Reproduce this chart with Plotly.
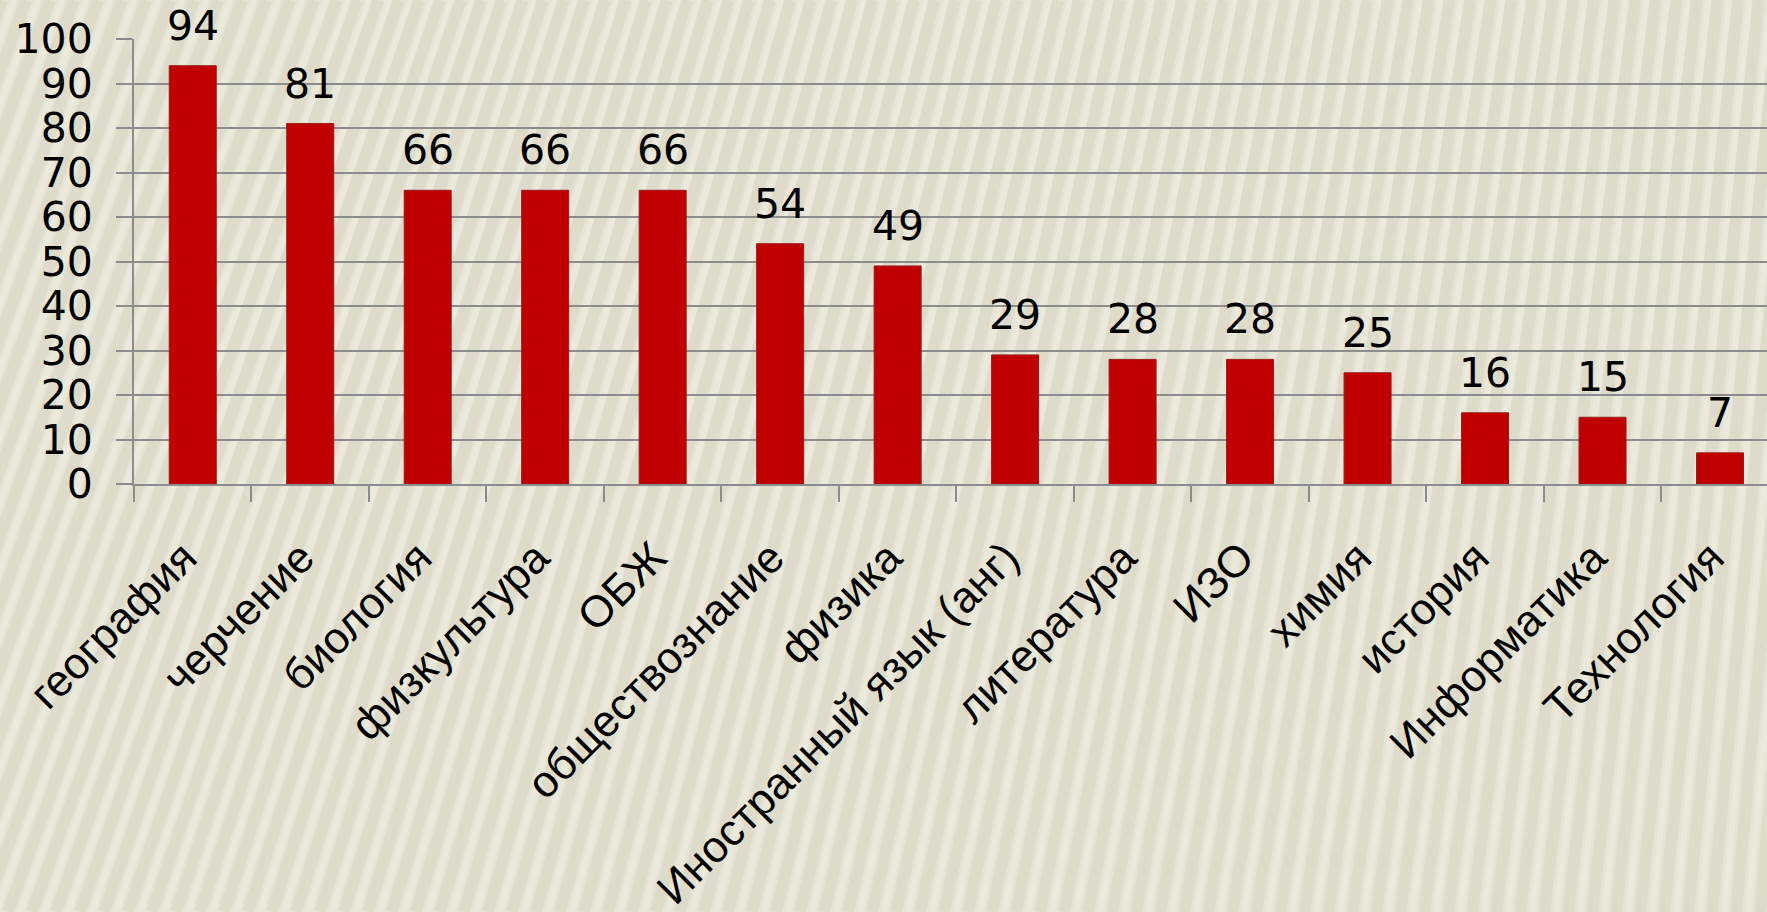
import plotly.graph_objects as go

categories = ["география", "черчение", "биология", "физкультура", "ОБЖ",
              "обществознание", "физика", "Иностранный язык (анг)", "литература",
              "ИЗО", "химия", "история", "Информатика", "Технология"]
values = [94, 81, 66, 66, 66, 54, 49, 29, 28, 28, 25, 16, 15, 7]
y_ticks = [0, 10, 20, 30, 40, 50, 60, 70, 80, 90, 100]

FONT = "Liberation Sans"
NUMFONT = "DejaVu Sans"
BAR = "#C00000"
GRID = "#8C8C8C"

W, H = 1767, 912
ML, MR, MT, MB = 134, 0, 39, 428

fig = go.Figure()
fig.add_trace(go.Bar(
    x=categories, y=values, width=0.4,
    marker=dict(color=BAR, line=dict(color="#9A1A1A", width=1)),
    hoverinfo="x+y",
))

for c, v in zip(categories, values):
    fig.add_annotation(x=c, y=v, text=str(v), showarrow=False,
                       yanchor="bottom", yshift=14,
                       font=dict(family=NUMFONT, size=41, color="black"))

# decorative striped slide background (paper-referenced, behind the plot)
pw, ph = W - ML - MR, H - MT - MB
def px2x(px):
    return (px - ML) / pw
def py2y(py):
    return (H - MB - py) / ph
shapes = []
step = 24
xb = -400
while xb < W + 40:
    frac = min(max(xb / W, 0), 1)
    lean = 330 - 250 * frac
    shapes.append(dict(type="line", xref="paper", yref="paper", layer="below",
                       x0=px2x(xb), y0=py2y(H), x1=px2x(xb + lean), y1=py2y(0),
                       line=dict(color="rgba(140,134,105,0.09)", width=12)))
    shapes.append(dict(type="line", xref="paper", yref="paper", layer="below",
                       x0=px2x(xb + 12), y0=py2y(H), x1=px2x(xb + 12 + lean), y1=py2y(0),
                       line=dict(color="rgba(255,255,250,0.18)", width=6)))
    xb += step

fig.update_layout(
    width=W, height=H,
    margin=dict(l=ML, r=MR, t=MT, b=MB),
    paper_bgcolor="#E6E4D5",
    plot_bgcolor="rgba(0,0,0,0)",
    showlegend=False,
    font=dict(family=FONT, size=42, color="black"),
    bargap=0.6,
    shapes=shapes,
)
fig.update_xaxes(
    type="category", range=[-0.5, 13.4],
    tickangle=-45, showgrid=False,
    showline=True, linecolor=GRID, linewidth=2,
    ticks="outside", ticklen=16, tickcolor=GRID, tickwidth=2,
    tickson="boundaries",
    ticklabelshift=-9, ticklabelstandoff=28,
    tickfont=dict(family=FONT, size=44, color="black"),
)
fig.update_yaxes(
    range=[0, 100], tickvals=y_ticks,
    showgrid=True, gridcolor=GRID, gridwidth=2,
    showline=True, linecolor=GRID, linewidth=2,
    ticks="outside", ticklen=16, tickcolor=GRID, tickwidth=2,
    ticklabelstandoff=15, zeroline=False,
    tickfont=dict(family=NUMFONT, size=41, color="black"),
)

fig.write_html("out.html",
               config={"displayModeBar": False},
               post_script="document.body.style.margin='0';document.body.style.overflow='hidden';")
